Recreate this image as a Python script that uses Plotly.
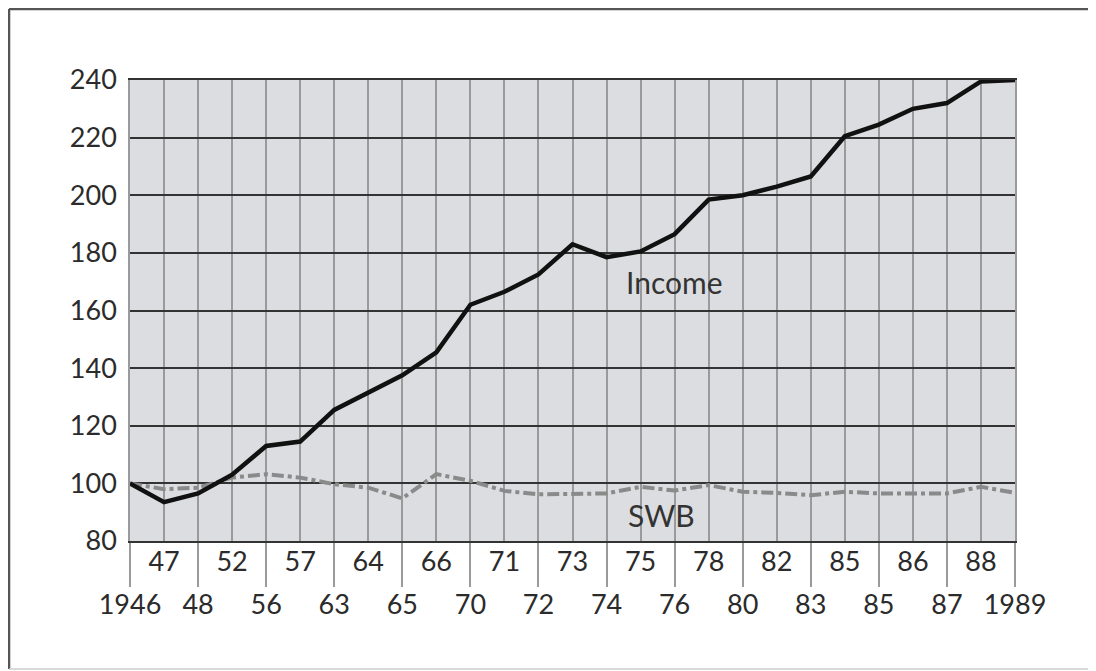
import plotly.graph_objects as go

# positions 0..26 along the x axis
positions = list(range(27))

# lower row labels (even positions) and upper row labels (odd positions)
lower_pos = [0, 2, 4, 6, 8, 10, 12, 14, 16, 18, 20, 22, 24, 26]
lower_labels = ["1946", "48", "56", "63", "65", "70", "72", "74", "76", "80", "83", "85", "87", "1989"]
upper_pos = [1, 3, 5, 7, 9, 11, 13, 15, 17, 19, 21, 23, 25]
upper_labels = ["47", "52", "57", "64", "66", "71", "73", "75", "78", "82", "85", "86", "88"]

income = [100, 93.5, 96.5, 103, 113, 114.5, 125.5, 131.5, 137.5, 145.5, 162, 166.5, 172.5,
          183, 178.5, 180.5, 186.5, 198.5, 200, 203, 206.5, 220.5, 224.5, 230, 232, 239.5, 240]
swb = [100, 98, 98.5, 102, 103.2, 102, 99.7, 98.5, 94.8, 103.2, 100.9, 97.4, 96.2,
       96.5, 96.5, 98.8, 97.5, 99.4, 97.1, 96.7, 95.9, 97.1, 96.5, 96.5, 96.5, 98.8, 96.7]

y_ticks = [80, 100, 120, 140, 160, 180, 200, 220, 240]

FONT = "Lato"
TXT = "#2b2b2b"

fig = go.Figure()
fig.add_trace(go.Scatter(x=positions, y=swb, mode="lines", name="SWB",
                         line=dict(color="#8a8a8a", width=4, dash="12px,4px,4px,4px")))
fig.add_trace(go.Scatter(x=positions, y=income, mode="lines", name="Income",
                         line=dict(color="#111111", width=4.5)))
# invisible trace for the second (upper labels) x axis
fig.add_trace(go.Scatter(x=[0, 26], y=[80, 80], mode="lines", xaxis="x2",
                         line=dict(width=0), showlegend=False, hoverinfo="skip"))

fig.update_layout(
    width=1096, height=671,
    margin=dict(l=122, r=89, t=72, b=138),
    paper_bgcolor="white",
    plot_bgcolor="#dcdde0",
    showlegend=False,
    font=dict(family=FONT, color=TXT, size=27),
    xaxis=dict(
        range=[0, 26], tickmode="array", tickvals=lower_pos, ticktext=lower_labels,
        ticks="outside", ticklen=44, tickwidth=1.5, tickcolor="#9a9a9a",
        showgrid=True, gridcolor="#9a9a9a", gridwidth=1.5,
        minor=dict(dtick=1, tick0=0, showgrid=True, gridcolor="#9a9a9a", gridwidth=1.5, ticks=""),
        showline=True, linecolor="#333333", linewidth=2, mirror=True,
        zeroline=False, tickfont=dict(size=27, color=TXT), fixedrange=True,
        ticklabelstandoff=-5,
    ),
    xaxis2=dict(
        range=[0, 26], overlaying="x", side="bottom", anchor="y",
        tickmode="array", tickvals=upper_pos, ticktext=upper_labels,
        ticks="", showgrid=False, showline=False, zeroline=False,
        tickfont=dict(size=27, color=TXT), ticklabelstandoff=2,
    ),
    yaxis=dict(
        range=[80, 240], tickmode="array", tickvals=y_ticks,
        showgrid=True, gridcolor="#333333", gridwidth=2,
        showline=True, linecolor="#9a9a9a", linewidth=1.5, mirror=True,
        zeroline=False, ticks="", ticklabelstandoff=6,
        tickfont=dict(size=27, color=TXT),
    ),
    annotations=[
        dict(x=16, y=170, xref="x", yref="y", text="Income", showarrow=False,
             font=dict(size=30, color="#333333", family=FONT)),
        dict(x=15.6, y=89, xref="x", yref="y", text="SWB", showarrow=False,
             font=dict(size=30, color="#333333", family=FONT)),
    ],
    shapes=[
        dict(type="line", xref="paper", yref="paper", x0=-0.1367, x1=1.12, y0=1.154, y1=1.154,
             line=dict(color="#555555", width=2.5)),
        dict(type="line", xref="paper", yref="paper", x0=-0.1367, x1=-0.1367, y0=1.154, y1=-0.2777,
             line=dict(color="#555555", width=2.5)),
        dict(type="line", xref="paper", yref="paper", x0=-0.1367, x1=1.12, y0=-0.2777, y1=-0.2777,
             line=dict(color="#cccccc", width=1.5)),
    ],
)

fig.write_html("out.html")
